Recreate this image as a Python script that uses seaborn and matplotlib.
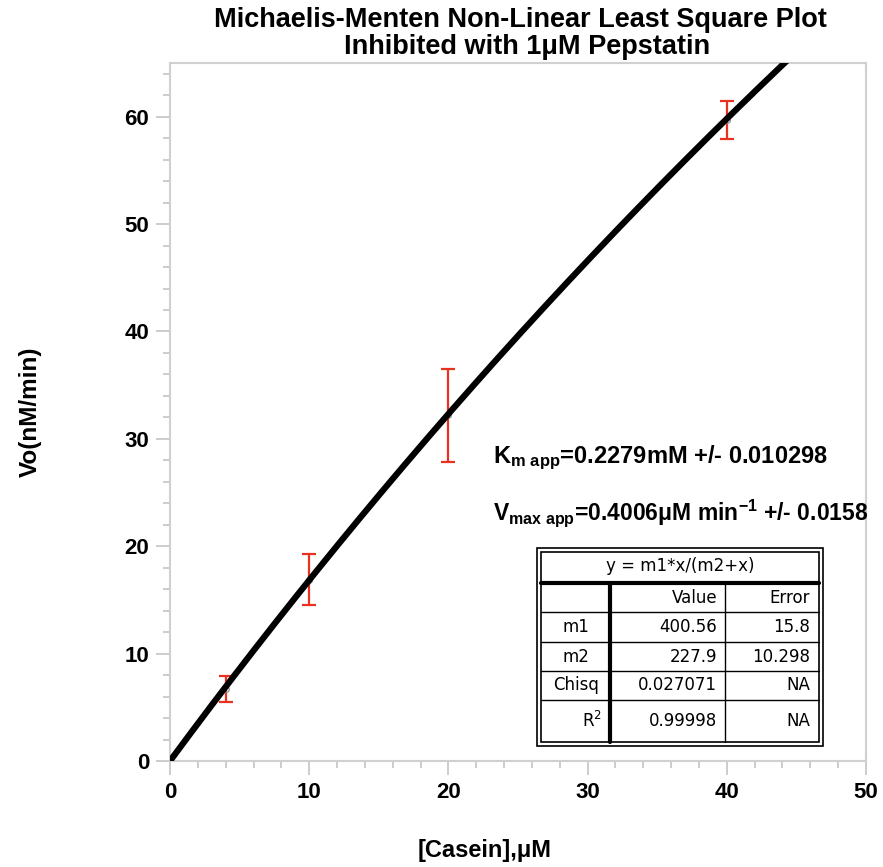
import numpy as np
import pandas as pd
import matplotlib
matplotlib.use('Agg')
import matplotlib.pyplot as plt
import seaborn as sns
from matplotlib.ticker import MultipleLocator

# measured points (casein uM, Vo nM/min) with error bars
casein = [4, 10, 20, 40]
vo = [6.7, 16.9, 32.2, 59.7]
vo_err = [1.2, 2.35, 4.35, 1.75]

# fit parameters shown in the table
m1, m2 = 400.56, 227.9
fit_rows = ['m1', 'm2', 'Chisq', 'R$^2$']
fit_value = ['400.56', '227.9', '0.027071', '0.99998']
fit_error = ['15.8', '10.298', 'NA', 'NA']

sns.set_style('white')
plt.rcParams['font.family'] = ['Liberation Sans', 'DejaVu Sans']
plt.rcParams['text.color'] = 'black'
plt.rcParams['xtick.color'] = 'black'
plt.rcParams['ytick.color'] = 'black'
plt.rcParams['mathtext.fontset'] = 'custom'
plt.rcParams['mathtext.rm'] = 'Liberation Sans:bold'
plt.rcParams['mathtext.bf'] = 'Liberation Sans:bold'
plt.rcParams['mathtext.it'] = 'Liberation Sans:bold'

fig = plt.figure(figsize=(8.83, 8.67), dpi=100)
ax = fig.add_axes([170/883, 1-761/867, 696/883, 698/867])

# fitted Michaelis-Menten curve
xs = np.linspace(0, 50, 300)
curve = pd.DataFrame({'x': xs, 'y': m1*xs/(m2+xs)})
sns.lineplot(data=curve, x='x', y='y', color='black', lw=4.5, ax=ax,
             solid_capstyle='round', zorder=3)

ax.errorbar(casein, vo, yerr=vo_err, fmt='o', ms=4, mfc='none', mec='#999999',
            ecolor='#e8311e', elinewidth=1.6, capsize=5, capthick=1.6, zorder=2)

ax.set_xlim(0, 50)
ax.set_ylim(0, 65)
ax.xaxis.set_major_locator(MultipleLocator(10))
ax.xaxis.set_minor_locator(MultipleLocator(2))
ax.yaxis.set_major_locator(MultipleLocator(10))
ax.yaxis.set_minor_locator(MultipleLocator(2))
ax.tick_params(which='major', direction='out', length=10, width=1.3, color='#c8c8c8',
               labelsize=16, pad=5, bottom=True, left=True, labelcolor='black')
ax.tick_params(which='minor', direction='out', length=5, width=1.3, color='#c8c8c8',
               bottom=True, left=True)
for lab in ax.get_xticklabels() + ax.get_yticklabels():
    lab.set_fontweight('bold')
for sp in ax.spines.values():
    sp.set_color('#d0d0d0')
    sp.set_linewidth(1.5)
ax.set_xlabel('')
ax.set_ylabel('')

fig.text(485/883, 1-850/867, '[Casein],\u03bcM', ha='center', va='center',
         fontsize=17, fontweight='bold')
fig.text(30/883, 1-412/867, 'Vo(nM/min)', ha='center', va='center',
         rotation=90, fontsize=17.5, fontweight='bold')

fig.text(520/883, 1-20/867, 'Michaelis-Menten Non-Linear Least Square Plot',
         ha='center', va='center', fontsize=19.5, fontweight='bold')
fig.text(527/883, 1-47/867, 'Inhibited with 1\u03bcM Pepstatin',
         ha='center', va='center', fontsize=19.5, fontweight='bold')

fig.text(493/883, 1-458/867, r'K$_{\mathrm{m\ app}}$=0.2279mM +/- 0.010298',
         ha='left', va='center', fontsize=17, fontweight='bold')
fig.text(493/883, 1-513/867, r'V$_{\mathrm{max\ app}}$=0.4006$\mu$M min$^{\mathrm{-1}}$ +/- 0.0158',
         ha='left', va='center', fontsize=16.5, fontweight='bold')

# fit table drawn in figure pixels
def px(x, y):
    return x/883, 1-y/867

def hline(y, x0, x1, lw):
    fig.add_artist(plt.Line2D([x0/883, x1/883], [1-y/867, 1-y/867], color='black', lw=lw, zorder=6))

def vline(x, y0, y1, lw):
    fig.add_artist(plt.Line2D([x/883, x/883], [1-y0/867, 1-y1/867], color='black', lw=lw, zorder=6))

L, R, T, B = 537, 823, 548, 746
fig.add_artist(plt.Rectangle(px(L, B), (R-L)/883, (B-T)/867, facecolor='white',
                             edgecolor='black', lw=1.2, zorder=5))
fig.add_artist(plt.Rectangle(px(L+4, B-4), (R-L-8)/883, (B-T-8)/867, facecolor='none',
                             edgecolor='black', lw=1.2, zorder=6))
row_edges = [583, 612, 642, 671, 700, 742]
hline(583, L+4, R-4, 3)
for y in row_edges[1:-1]:
    hline(y, L+4, R-4, 1)
vline(610, 583, B-4, 3)
vline(725, 583, B-4, 1)

tkw = dict(fontsize=12, family=['DejaVu Sans'], va='center', zorder=7)
fig.text(*px((L+R)/2, 566), 'y = m1*x/(m2+x)', ha='center', **tkw)
fig.text(*px(717, 598), 'Value', ha='right', **tkw)
fig.text(*px(810, 598), 'Error', ha='right', **tkw)
for i in range(4):
    yc = (row_edges[i+1] + row_edges[i+2]) / 2
    fig.text(*px(576 if i < 3 else 592, yc), fit_rows[i], ha='center',
             math_fontfamily='dejavusans', **tkw)
    fig.text(*px(717, yc), fit_value[i], ha='right', **tkw)
    fig.text(*px(810, yc), fit_error[i], ha='right', **tkw)

plt.savefig('out.png', dpi=100)
